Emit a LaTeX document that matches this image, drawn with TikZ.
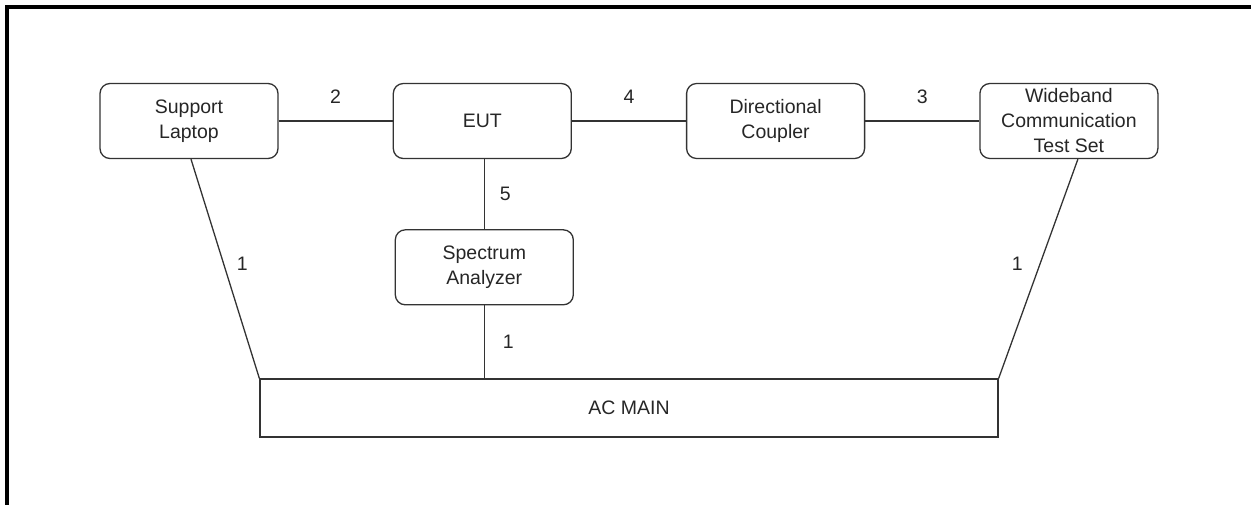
\documentclass[tikz,border=0pt]{standalone}
\usepackage{fontspec}
\setmainfont{Liberation Sans}
\usetikzlibrary{positioning}

\begin{document}
\begin{tikzpicture}[x=1pt,y=-1pt,
    every node/.style={font=\fontsize{19.5}{25}\selectfont,text=black!85},
    device/.style={draw=black!80,line width=1.3pt,rounded corners=10pt,
        minimum width=178pt,minimum height=75pt,align=center,inner sep=0pt},
    link/.style={draw=black!80,line width=1.3pt},
    node distance=114pt]
    \useasboundingbox (0,0) rectangle (1251,504);
    % frame
    \draw[line width=3.5pt,line cap=rect] (7,504) -- (7,7) -- (1251,7);
    % devices
    \node[device] (laptop) at (189,121) {Support\\Laptop};
    \node[device] (eut) [right=of laptop] {EUT};
    \node[device] (coupler) [right=of eut] {Directional\\Coupler};
    \node[device] (wtest) [right=of coupler] {Wideband\\Communication\\Test Set};
    \node[device] (analyzer) [below=70pt of eut,xshift=2pt] {Spectrum\\Analyzer};
    \node[draw=black!80,line width=1.3pt,minimum width=738pt,minimum height=58pt,inner sep=0pt]
        (acmain) at (629,408) {AC MAIN};
    % cables
    \path (laptop) edge[link] node[yshift=24pt] {2} (eut)
          (eut) edge[link] node[yshift=24pt] {4} (coupler)
          (coupler) edge[link] node[yshift=24pt] {3} (wtest);
    \draw[link] (analyzer.north) -- node[xshift=21pt] {5} (analyzer.north |- eut.south);
    \draw[link] (analyzer.south) -- node[xshift=24pt] {1} (analyzer.south |- acmain.north);
    \draw[link] ([xshift=2pt]laptop.south) -- node[xshift=17pt,yshift=5pt] {1} (acmain.north west);
    \draw[link] ([xshift=9pt]wtest.south) -- node[xshift=-21pt,yshift=5pt] {1} (acmain.north east);
\end{tikzpicture}
\end{document}
